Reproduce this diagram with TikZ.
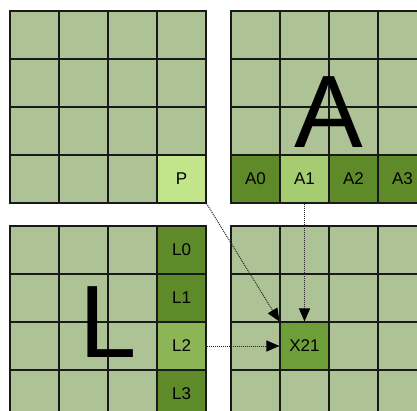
\documentclass[tikz,border=0pt]{standalone}
\usepackage{fontspec}
\setmainfont{Liberation Sans}
\usetikzlibrary{arrows.meta,positioning}
\definecolor{gridgreen}{RGB}{173,195,150}
\definecolor{palegreen}{RGB}{194,229,139}
\definecolor{deepgreen}{RGB}{95,138,42}
\definecolor{lightleaf}{RGB}{166,204,114}
\definecolor{midleaf}{RGB}{140,181,88}
\definecolor{resgreen}{RGB}{110,158,56}
\tikzset{
  cell/.style={rectangle,draw=black!90,line width=1.1pt,fill=gridgreen,
              minimum width=49pt,minimum height=48pt,inner sep=0pt,
              font=\fontsize{17}{19}\selectfont},
  src/.style={cell,fill=palegreen},
  band/.style={cell,fill=deepgreen},
  pick/.style={cell,fill=lightleaf},
  pickl/.style={cell,fill=midleaf},
  res/.style={cell,fill=resgreen},
  bigletter/.style={anchor=base,inner sep=0pt,font=\fontsize{103}{110}\selectfont},
  link/.style={-{Triangle[length=13pt,width=11pt,black]},densely dotted,line width=1pt,draw=black!85},
}

\begin{document}
\begin{tikzpicture}[x=1pt,y=-1pt]
  \useasboundingbox (0,0) rectangle (417,410);
  \clip (0,0) rectangle (417,410);
  % four 4x4 blocks
  \foreach \blk/\bx/\by in {tl/10/11,tr/231/11,bl/10/226,br/231/226}
    \foreach \r in {0,...,3}
      \foreach \c in {0,...,3}
        \node[cell] (\blk-\r-\c) at (\bx+24.5+49*\c,\by+24+48*\r) {};

  \node[src] (P) at (tl-3-3) {P};
  \node[band] (a0) at (tr-3-0) {A0};
  \node[pick] (a1) at (tr-3-1) {A1};
  \node[band] (a2) at (tr-3-2) {A2};
  \node[band] (a3) at (tr-3-3) {A3};
  \node[band] (l0) at (bl-0-3) {L0};
  \node[band] (l1) at (bl-1-3) {L1};
  \node[pickl] (l2) at (bl-2-3) {L2};
  \node[band] (l3) at (bl-3-3) {L3};
  \node[res] (x21) at (br-2-1) {X21};

  \node[bigletter] (bigA) at (329,147) {A};
  \node[bigletter] (bigL) at (108,357) {L};

  \draw[link] (P.south east) -- (x21.north west);
  \draw[link] (a1.south) -- (x21.north);
  \draw[link] (l2.east) -- (x21.west);
\end{tikzpicture}
\end{document}
